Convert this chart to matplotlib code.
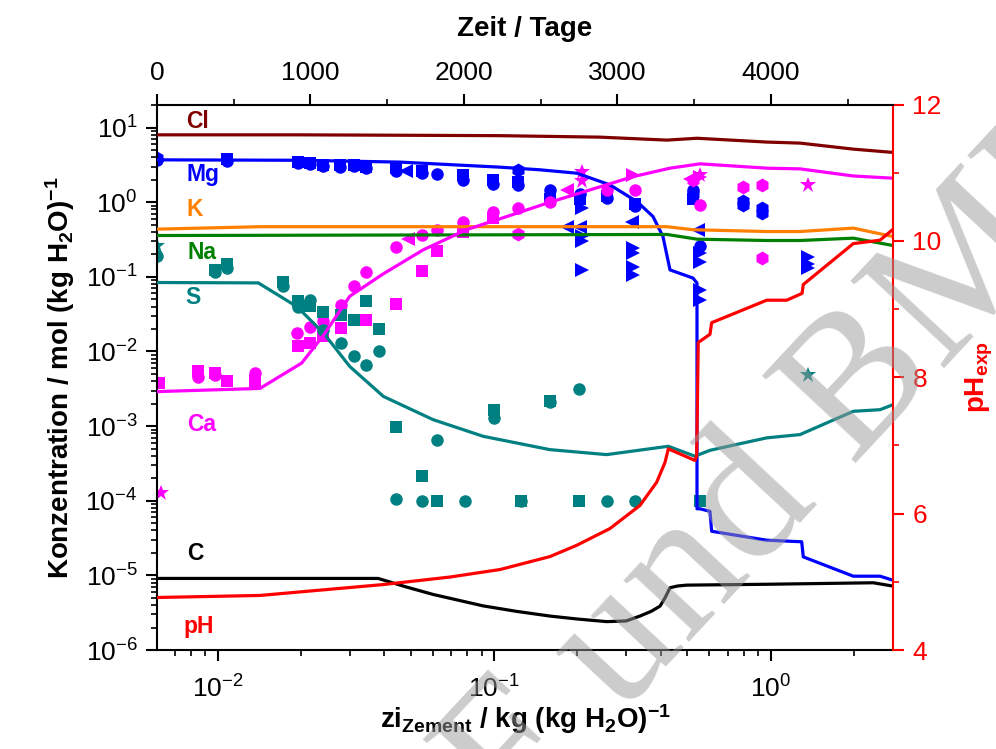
import matplotlib
matplotlib.use("Agg")
import matplotlib.pyplot as plt
import matplotlib.ticker as mticker

plt.rcParams['font.family'] = ['Liberation Sans', 'DejaVu Sans']
plt.rcParams['mathtext.fontset'] = 'custom'
plt.rcParams['mathtext.rm'] = 'Liberation Sans'
plt.rcParams['mathtext.it'] = 'Liberation Sans:italic'
plt.rcParams['mathtext.bf'] = 'Liberation Sans:bold'
plt.rcParams['mathtext.default'] = 'regular'

# ---------------- model curves ----------------
x_cl = [0.00602, 0.0198, 0.1049, 0.2414, 0.4217, 0.5416, 0.97, 1.278, 1.987, 2.773]
y_cl = [8.0, 8.0, 7.8, 7.45, 6.8, 7.2, 6.4, 6.2, 5.15, 4.65]

x_mg = [0.00602, 0.0198, 0.0456, 0.1049, 0.1463, 0.199, 0.262, 0.3285, 0.3753, 0.4078,
        0.4325, 0.5237, 0.5416, 0.5416, 0.5553, 0.6034, 0.612, 0.968, 1.296, 1.313,
        1.992, 2.49, 2.773]
y_mg = [3.7, 3.65, 3.45, 2.95, 2.72, 2.45, 1.71, 1.02, 0.644, 0.348,
        0.124, 0.0964, 0.0826, 7.8e-5, 7.8e-5, 7.2e-5, 3.9e-5, 2.96e-5, 2.82e-5, 1.77e-5,
        9.75e-6, 9.75e-6, 8.6e-6]

x_k = [0.00602, 0.0142, 0.4217, 0.5237, 0.97, 1.278, 1.992, 2.773]
y_k = [0.436, 0.47, 0.47, 0.428, 0.405, 0.405, 0.45, 0.347]

x_na = [0.00602, 0.4217, 0.5416, 0.97, 1.278, 1.992, 2.773]
y_na = [0.358, 0.37, 0.32, 0.307, 0.307, 0.33, 0.263]

x_s = [0.00602, 0.0140, 0.0193, 0.0241, 0.030, 0.0397, 0.0601, 0.0912, 0.159, 0.255,
       0.4265, 0.5325, 0.6034, 0.968, 1.278, 1.992, 2.49, 2.773]
y_s = [0.084, 0.083, 0.040, 0.0177, 0.0063, 0.0025, 0.00122, 7.3e-4, 4.84e-4, 4.15e-4,
       5.37e-4, 3.95e-4, 4.74e-4, 6.96e-4, 7.7e-4, 1.58e-3, 1.66e-3, 1.94e-3]

x_ca = [0.00602, 0.0142, 0.0201, 0.0241, 0.030, 0.0397, 0.0553, 0.0795, 0.1049, 0.159,
        0.3177, 0.4325, 0.5553, 0.97, 1.278, 1.987, 2.773]
y_ca = [0.0029, 0.0032, 0.0070, 0.0165, 0.055, 0.11, 0.23, 0.43, 0.6, 1.0,
        2.2, 2.86, 3.27, 2.86, 2.8, 2.25, 2.1]

x_c = [0.00602, 0.038, 0.048, 0.0601, 0.0912, 0.12, 0.159, 0.2, 0.255, 0.30,
       0.3367, 0.37, 0.398, 0.415, 0.4325, 0.46, 0.497, 0.968, 2.353, 2.773]
y_c = [9.1e-6, 9.1e-6, 7.0e-6, 5.55e-6, 3.9e-6, 3.3e-6, 2.85e-6, 2.6e-6, 2.4e-6, 2.45e-6,
       2.85e-6, 3.3e-6, 3.87e-6, 5.0e-6, 6.83e-6, 7.2e-6, 7.4e-6, 7.6e-6, 7.96e-6, 7.18e-6]

x_ph = [0.00602, 0.0142, 0.0397, 0.0691, 0.1049, 0.159, 0.1987, 0.262, 0.3367, 0.387,
        0.4148, 0.4265, 0.5325, 0.540, 0.5473, 0.6034, 0.612, 0.968, 1.144, 1.30,
        1.313, 1.992, 2.49, 2.773]
y_ph = [4.77, 4.80, 4.96, 5.07, 5.18, 5.37, 5.535, 5.78, 6.12, 6.46,
        6.75, 6.95, 6.78, 6.85, 8.51, 8.63, 8.80, 9.13, 9.13, 9.23,
        9.36, 9.96, 10.01, 10.17]

# ---------------- measured data ----------------
# Mg (blue)
mg_sq_x = [0.0108, 0.0195, 0.0215, 0.0241, 0.0277, 0.0310, 0.0343, 0.0441, 0.0546, 0.0773,
           0.0992, 0.122, 0.159, 0.204, 0.255, 0.323, 0.525]
mg_sq_y = [3.75, 3.45, 3.35, 3.2, 3.15, 3.15, 3.0, 2.85, 2.65, 2.3,
           2.0, 1.85, 1.1, 1.1, 1.2, 0.95, 1.1]
mg_ci_x = [0.0060, 0.0108, 0.0195, 0.0215, 0.0241, 0.0277, 0.0310, 0.0343, 0.0441, 0.0546,
           0.0622, 0.0773, 0.0992, 0.122, 0.159, 0.204, 0.255, 0.323, 0.525, 0.555]
mg_ci_y = [3.7, 3.6, 3.35, 3.25, 3.1, 3.0, 3.05, 2.9, 2.65, 2.5,
           2.4, 2.0, 1.75, 1.7, 1.45, 1.3, 1.15, 0.88, 1.45, 0.26]
mg_hx_x = [0.0060, 0.122, 0.525, 0.796, 0.796, 0.929, 0.929]
mg_hx_y = [3.9, 2.72, 1.3, 1.05, 0.92, 0.85, 0.72]
mg_lt_x = [0.048, 0.183, 0.204, 0.314, 0.547]
mg_lt_y = [2.6, 0.47, 0.47, 0.55, 0.43]
mg_rt_x = [0.207, 0.207, 0.207, 0.207, 0.318, 0.318, 0.318, 0.318, 0.555, 0.555,
           0.555, 0.555, 1.369, 1.369, 1.369]
mg_rt_y = [0.83, 0.35, 0.30, 0.125, 0.243, 0.21, 0.137, 0.107, 0.21, 0.16,
           0.067, 0.049, 0.187, 0.15, 0.13]

# Ca (magenta)
ca_ci_x = [0.0085, 0.0098, 0.0136, 0.0193, 0.0215, 0.0241, 0.0278, 0.0310, 0.0343, 0.0441,
           0.0546, 0.0622, 0.0773, 0.0992, 0.122, 0.159, 0.255, 0.323, 0.555]
ca_ci_y = [0.0045, 0.0049, 0.0052, 0.0177, 0.0213, 0.0253, 0.042, 0.075, 0.115, 0.255,
           0.366, 0.427, 0.55, 0.73, 0.83, 1.0, 1.47, 1.47, 0.92]
ca_sq_x = [0.0061, 0.0085, 0.0098, 0.0108, 0.0136, 0.0195, 0.0215, 0.0241, 0.0278, 0.0310,
           0.0343, 0.0441, 0.0546, 0.0622, 0.0773, 0.0992]
ca_sq_y = [0.0038, 0.0055, 0.0052, 0.0040, 0.0040, 0.0117, 0.013, 0.016, 0.0206, 0.0268,
           0.0268, 0.0436, 0.118, 0.219, 0.405, 0.61]
ca_hx_x = [0.122, 0.525, 0.796, 0.929, 0.929]
ca_hx_y = [0.376, 2.0, 1.62, 1.71, 0.178]
ca_lt_x = [0.0487, 0.183, 0.51]
ca_lt_y = [0.321, 1.47, 2.05]
ca_rt_x = [0.318, 0.555]
ca_rt_y = [2.32, 2.2]
ca_st_x = [0.0062, 0.207, 0.207, 0.555, 1.369]
ca_st_y = [1.28e-4, 2.58, 1.9, 2.3, 1.71]

# S (teal)
s_ci_x = [0.0060, 0.0098, 0.0108, 0.0172, 0.0195, 0.0215, 0.0241, 0.0278, 0.0310, 0.0343,
          0.0384, 0.0441, 0.0546, 0.0622, 0.0783, 0.0997, 0.125, 0.159, 0.203, 0.256,
          0.323]
s_ci_y = [0.19, 0.115, 0.13, 0.0745, 0.040, 0.0487, 0.0196, 0.013, 0.0086, 0.0065,
          0.010, 1.06e-4, 1e-4, 6.45e-4, 1e-4, 1.29e-3, 1e-4, 2.1e-3, 3.15e-3, 1e-4,
          1e-4]
s_sq_x = [0.0098, 0.0108, 0.0172, 0.0195, 0.0215, 0.0241, 0.0278, 0.0310, 0.0343, 0.0384,
          0.0441, 0.0546, 0.0622, 0.0997, 0.125, 0.159, 0.203, 0.555]
s_sq_y = [0.125, 0.15, 0.085, 0.047, 0.041, 0.034, 0.031, 0.0268, 0.047, 0.020,
          9.6e-4, 2.13e-4, 1e-4, 1.66e-3, 1e-4, 2.2e-3, 1e-4, 1e-4]
s_st_x = [0.0060, 1.369]
s_st_y = [0.26, 4.8e-3]

# ---------------- axes ----------------
x_lim = (0.00602, 2.773)
y_lim = (1e-6, 20.4)
ph_lim = (4, 12)
days_lim = (0, 4795)
days_ticks = [0, 1000, 2000, 3000, 4000]
ph_ticks = [4, 6, 8, 10, 12]

BLUE = '#0000FF'
MAG = '#FF00FF'
TEAL = '#008080'
RED = '#FF0000'

fig = plt.figure(figsize=(9.96, 7.49), dpi=100)
ax = fig.add_axes([157/996, 1-650/749, (893-157)/996, (650-104.5)/749])
ax.set_xscale('log')
ax.set_yscale('log')
ax.set_xlim(*x_lim)
ax.set_ylim(*y_lim)

ms = 9
def pts(x, y, m, c, s=ms):
    ax.plot(x, y, linestyle='none', marker=m, color=c, markersize=s, zorder=2,
            markeredgewidth=0)

pts(mg_sq_x, mg_sq_y, 's', BLUE, 8.5)
pts(mg_ci_x, mg_ci_y, 'o', BLUE)
pts(mg_hx_x, mg_hx_y, 'h', BLUE, 10)
pts(mg_lt_x, mg_lt_y, '<', BLUE, 10)
pts(mg_rt_x, mg_rt_y, '>', BLUE, 10)
pts(ca_ci_x, ca_ci_y, 'o', MAG)
pts(ca_sq_x, ca_sq_y, 's', MAG, 8.5)
pts(ca_hx_x, ca_hx_y, 'h', MAG, 10)
pts(ca_lt_x, ca_lt_y, '<', MAG, 10)
pts(ca_rt_x, ca_rt_y, '>', MAG, 10)
pts(ca_st_x, ca_st_y, '*', MAG, 12)
pts(s_ci_x, s_ci_y, 'o', TEAL)
pts(s_sq_x, s_sq_y, 's', TEAL, 8.5)
pts(s_st_x, s_st_y, '*', TEAL, 12)

lw = 2.3
ax.plot(x_cl, y_cl, color='#800000', lw=lw, zorder=3)
ax.plot(x_mg, y_mg, color=BLUE, lw=lw, zorder=3)
ax.plot(x_k, y_k, color='#FF8000', lw=lw, zorder=3)
ax.plot(x_na, y_na, color='#008000', lw=lw, zorder=3)
ax.plot(x_s, y_s, color=TEAL, lw=lw, zorder=3)
ax.plot(x_ca, y_ca, color=MAG, lw=lw, zorder=3)
ax.plot(x_c, y_c, color='black', lw=lw, zorder=3)

tick_fs = 19
ax.yaxis.set_major_locator(mticker.LogLocator(base=10, numticks=20))
ax.yaxis.set_minor_locator(mticker.LogLocator(base=10, subs=range(2, 10), numticks=20))
ax.yaxis.set_minor_formatter(mticker.NullFormatter())
ax.xaxis.set_minor_locator(mticker.LogLocator(base=10, subs=range(2, 10), numticks=20))
ax.xaxis.set_minor_formatter(mticker.NullFormatter())
ax.tick_params(which='major', direction='out', length=8, width=1.5, labelsize=tick_fs, pad=6)
ax.tick_params(which='minor', direction='out', length=4, width=1.2)
ax.tick_params(axis='x', which='major', pad=10)
for sp in ['top', 'right']:
    ax.spines[sp].set_visible(False)
for sp in ['left', 'bottom']:
    ax.spines[sp].set_linewidth(1.5)

ax.set_ylabel(r'Konzentration / mol (kg H$_\mathbf{2}$O)$^{\mathbf{-1}}$', fontsize=20,
              fontweight='bold', labelpad=6)
ax.set_xlabel(r'zi$_{\mathbf{Zement}}$ / kg (kg H$_\mathbf{2}$O)$^{\mathbf{-1}}$', fontsize=20,
              fontweight='bold', labelpad=0)

# element labels
labels = [('Cl', 0.0557, 0.9687, '#800000'), ('Mg', 0.0625, 0.8708, BLUE),
          ('K', 0.0516, 0.8066, '#FF8000'), ('Na', 0.0611, 0.7278, '#008000'),
          ('S', 0.0489, 0.6453, TEAL), ('Ca', 0.0611, 0.4125, MAG),
          ('C', 0.0516, 0.1778, 'black'), ('pH', 0.0571, 0.0422, RED)]
for t, xx, yy, c in labels:
    ax.text(xx, yy, t, color=c, fontsize=16.5, fontweight='bold', ha='center', va='center',
            transform=ax.transAxes)

# pH axis
ax2 = ax.twinx()
ax2.set_ylim(*ph_lim)
ax2.plot(x_ph, y_ph, color=RED, lw=lw, zorder=3)
ax2.set_yticks(ph_ticks)
ax2.yaxis.set_minor_locator(mticker.MultipleLocator(1))
ax2.tick_params(which='major', direction='out', length=8, width=1.5, labelsize=tick_fs,
                colors=RED, pad=6)
ax2.tick_params(which='minor', direction='out', length=4, width=1.2, colors=RED)
for sp in ['top', 'left', 'bottom']:
    ax2.spines[sp].set_visible(False)
ax2.spines['right'].set_color(RED)
ax2.spines['right'].set_linewidth(1.5)
ax2.set_ylabel(r'pH$_{\mathbf{exp}}$', color=RED, fontsize=20, fontweight='bold', labelpad=16)

# days axis
ax3 = ax.twiny()
ax3.set_xlim(*days_lim)
ax3.set_xticks(days_ticks)
ax3.xaxis.set_minor_locator(mticker.MultipleLocator(500))
ax3.tick_params(which='major', direction='out', length=8, width=1.5, labelsize=tick_fs, pad=6)
ax3.tick_params(which='minor', direction='out', length=4, width=1.2)
for sp in ['left', 'right', 'bottom']:
    ax3.spines[sp].set_visible(False)
ax3.spines['top'].set_linewidth(1.5)
ax3.set_xlabel('Zeit / Tage', fontsize=20, fontweight='bold', labelpad=18)

# watermark
fig.text(0.655, 0.182, 'BMBF und BMU', fontsize=140, family='Liberation Serif',
         color='0.6', alpha=0.5, rotation=47, rotation_mode='anchor',
         ha='center', va='center', zorder=10)

fig.savefig('out.png', dpi=100)
